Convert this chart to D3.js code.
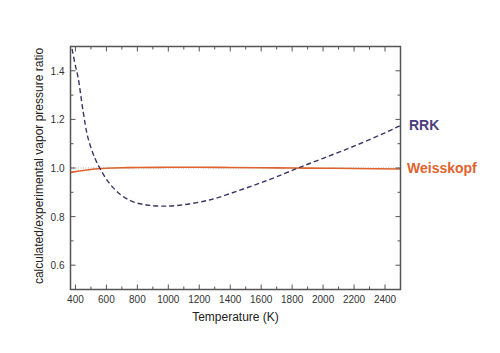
<!DOCTYPE html>
<html>
<head>
<meta charset="utf-8">
<script src="https://cdn.jsdelivr.net/npm/d3@7"></script>
<style>
  body { margin: 0; background: #fff; }
  svg text { font-family: "Liberation Sans", Arial, sans-serif; }
</style>
</head>
<body>
<svg id="chart" width="500" height="353"></svg>
<script>
// temperature (K) vs ratio
const rrkT = [378, 400, 417, 449, 481, 525, 557, 611, 688, 772, 860, 960, 1075, 1205, 1300, 1400, 1500, 1600, 1700, 1838, 2000, 2200, 2400, 2500];
const rrkRatio = [1.49, 1.42, 1.373, 1.235, 1.124, 1.041, 1.0, 0.944, 0.892, 0.861, 0.848, 0.843, 0.847, 0.86, 0.874, 0.895, 0.917, 0.94, 0.964, 1.0, 1.04, 1.09, 1.145, 1.175];

const wkT = [370, 400, 450, 500, 550, 600, 700, 800, 1000, 1200, 1400, 1600, 1800, 2000, 2200, 2500];
const wkRatio = [0.982, 0.985, 0.99, 0.994, 0.997, 0.999, 1.001, 1.002, 1.003, 1.003, 1.002, 1.001, 1.0, 0.999, 0.998, 0.996];

const xTicks = [400, 600, 800, 1000, 1200, 1400, 1600, 1800, 2000, 2200, 2400];
const yTicks = [0.6, 0.8, 1.0, 1.2, 1.4];

const svg = d3.select("#chart");
const m = { left: 70.5, right: 400.5, top: 46.5, bottom: 289.5 };

const x = d3.scaleLinear().domain([368, 2500]).range([m.left, m.right]);
const y = d3.scaleLinear().domain([0.5, 1.5]).range([m.bottom, m.top]);

const axisColor = "#555";

// reference line at 1.0
svg.append("line")
    .attr("x1", m.left).attr("x2", m.right)
    .attr("y1", y(1)).attr("y2", y(1))
    .attr("stroke", "#9aa")
    .attr("stroke-width", 1)
    .attr("stroke-dasharray", "1,1.5");

svg.append("defs").append("clipPath").attr("id", "clip")
    .append("rect").attr("x", m.left).attr("y", m.top)
    .attr("width", m.right - m.left).attr("height", m.bottom - m.top);

const line = d3.line()
    .x(d => x(d[0]))
    .y(d => y(d[1]))
    .curve(d3.curveCatmullRom);

const plot = svg.append("g").attr("clip-path", "url(#clip)");

plot.append("path")
    .datum(wkT.map((t, i) => [t, wkRatio[i]]))
    .attr("fill", "none")
    .attr("stroke", "#e0622d")
    .attr("stroke-width", 1.6)
    .attr("d", line);

plot.append("path")
    .datum(rrkT.map((t, i) => [t, rrkRatio[i]]))
    .attr("fill", "none")
    .attr("stroke", "#3a3566")
    .attr("stroke-width", 1.4)
    .attr("stroke-dasharray", "5,3")
    .attr("d", line);

// inward ticks on all four sides
const xMinor = d3.range(400, 2501, 100);
const yMinor = d3.range(0.5, 1.501, 0.1);

const ticks = svg.append("g").attr("stroke", axisColor).attr("stroke-width", 1);
xMinor.forEach(t => {
    const len = xTicks.includes(t) ? 5 : 3;
    ticks.append("line").attr("x1", x(t)).attr("x2", x(t)).attr("y1", m.bottom).attr("y2", m.bottom - len);
    ticks.append("line").attr("x1", x(t)).attr("x2", x(t)).attr("y1", m.top).attr("y2", m.top + len);
});
yMinor.forEach(v => {
    const major = yTicks.some(k => Math.abs(k - v) < 1e-6);
    const len = major ? 5 : 3;
    ticks.append("line").attr("x1", m.left).attr("x2", m.left + len).attr("y1", y(v)).attr("y2", y(v));
    ticks.append("line").attr("x1", m.right).attr("x2", m.right - len).attr("y1", y(v)).attr("y2", y(v));
});

svg.append("rect")
    .attr("x", m.left).attr("y", m.top)
    .attr("width", m.right - m.left).attr("height", m.bottom - m.top)
    .attr("fill", "none")
    .attr("stroke", axisColor)
    .attr("stroke-width", 1.5);

svg.append("g").selectAll("text")
    .data(xTicks).enter().append("text")
    .attr("x", d => x(d))
    .attr("y", m.bottom + 13)
    .attr("text-anchor", "middle")
    .attr("font-size", 10)
    .attr("fill", "#333")
    .text(d => d);

svg.append("g").selectAll("text")
    .data(yTicks).enter().append("text")
    .attr("x", m.left - 6)
    .attr("y", d => y(d) + 4)
    .attr("text-anchor", "end")
    .attr("font-size", 10)
    .attr("fill", "#333")
    .text(d => d.toFixed(1));

svg.append("text")
    .attr("x", (m.left + m.right) / 2)
    .attr("y", 321)
    .attr("text-anchor", "middle")
    .attr("font-size", 12)
    .attr("fill", "#222")
    .text("Temperature (K)");

svg.append("text")
    .attr("transform", "translate(43,166) rotate(-90)")
    .attr("text-anchor", "middle")
    .attr("font-size", 12)
    .attr("fill", "#222")
    .text("calculated/experimental vapor pressure ratio");

svg.append("text")
    .attr("x", 409).attr("y", 130)
    .attr("font-size", 14).attr("font-weight", "bold")
    .attr("fill", "#4d3d7c")
    .text("RRK");

svg.append("text")
    .attr("x", 407).attr("y", 173)
    .attr("font-size", 14).attr("font-weight", "bold")
    .attr("fill", "#e0622d")
    .text("Weisskopf");
</script>
</body>
</html>
